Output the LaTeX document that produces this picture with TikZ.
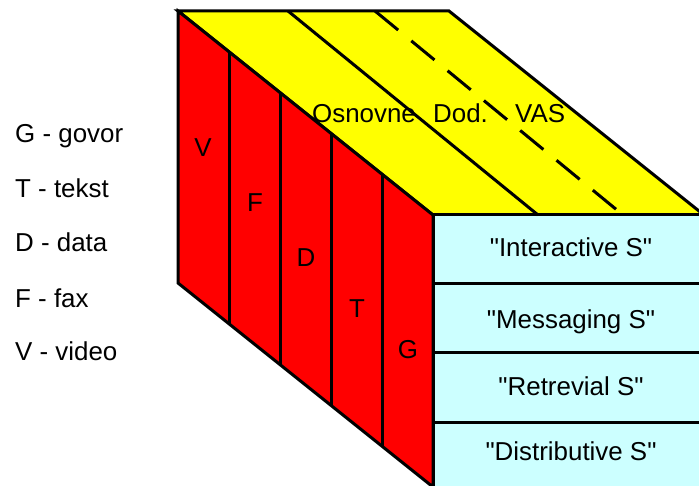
\documentclass[tikz,border=0pt]{standalone}
\usepackage{fontspec}
\setmainfont{Liberation Sans}[Ligatures=TeXOff]
\usetikzlibrary{calc}
\definecolor{topyellow}{HTML}{FFFF00}
\definecolor{sidered}{HTML}{FF0000}
\definecolor{frontcyan}{HTML}{CCFFFF}
\begin{document}
\begin{tikzpicture}[x=1bp,y=-1bp,
  edge/.style={line width=3bp, line join=miter, line cap=butt},
  divider/.style={line width=3bp},
  lbl/.style={font=\fontsize{26}{31}\selectfont, inner sep=0pt, text=black},
  dashline/.style={line width=3bp, dash pattern=on 30bp off 17bp}]
\useasboundingbox (0,0) rectangle (699,486);
\clip (0,0) rectangle (699,486);
% corners of the box
\coordinate (A) at (178,11);
\coordinate (B) at (449,11);
\coordinate (C) at (704,215);
\coordinate (D) at (433,215);
\coordinate (E) at (178,283);
\coordinate (F) at (433,487);
\coordinate (G) at (704,487);
% faces
\filldraw[edge, fill=topyellow] (A) -- (B) -- (C) -- (D) -- cycle;
\filldraw[edge, fill=sidered] (A) -- (D) -- (F) -- (E) -- cycle;
\filldraw[edge, fill=frontcyan] (D) -- (C) -- (G) -- (F) -- cycle;
% top face dividers
\coordinate (t1) at (288,11);
\coordinate (b1) at (538,215);
\coordinate (t2) at (375,11);
\coordinate (b2) at (623,215);
\draw[divider] (t1) -- (b1);
\draw[dashline] (t2) -- (b2);
% side face dividers
\foreach \f in {0.2,0.4,0.6,0.8}{
  \draw[divider] ($(A)!\f!(D)$) -- ($(E)!\f!(F)$);
}
% front face dividers
\foreach \yy/\nm in {283/r1,352/r2,422/r3}{
  \coordinate (\nm l) at (433,\yy);
  \coordinate (\nm r) at (704,\yy);
  \draw[divider] (\nm l) -- (\nm r);
}
\draw[edge] (D) -- (F);
% front texts
\node[lbl, anchor=base] (s1) at (571,257) {"Interactive S"};
\node[lbl, anchor=base] (s2) at (571,328) {"Messaging S"};
\node[lbl, anchor=base] (s3) at (571,395) {"Retrevial S"};
\node[lbl, anchor=base] (s4) at (571,460) {"Distributive S"};
% top texts
\node[lbl, anchor=base west] (osn) at (312,123) {Osnovne};
\node[lbl, anchor=base west] (dod) at (433,123) {Dod.};
\node[lbl, anchor=base west] (vas) at (515,123) {VAS};
% side letters
\node[lbl, anchor=base] (lv) at (203,157) {V};
\node[lbl, anchor=base] (lf) at (255,212) {F};
\node[lbl, anchor=base] (ld) at (306,267) {D};
\node[lbl, anchor=base] (lt) at (357,317) {T};
\node[lbl, anchor=base] (lg) at (408,358) {G};
% legend
\node[lbl, anchor=base west] (kg) at (15,143) {G - govor};
\node[lbl, anchor=base west] (kt) at (15,198) {T - tekst};
\node[lbl, anchor=base west] (kd) at (15,252) {D - data};
\node[lbl, anchor=base west] (kf) at (15,307) {F - fax};
\node[lbl, anchor=base west] (kv) at (15,360) {V - video};
\end{tikzpicture}
\end{document}
